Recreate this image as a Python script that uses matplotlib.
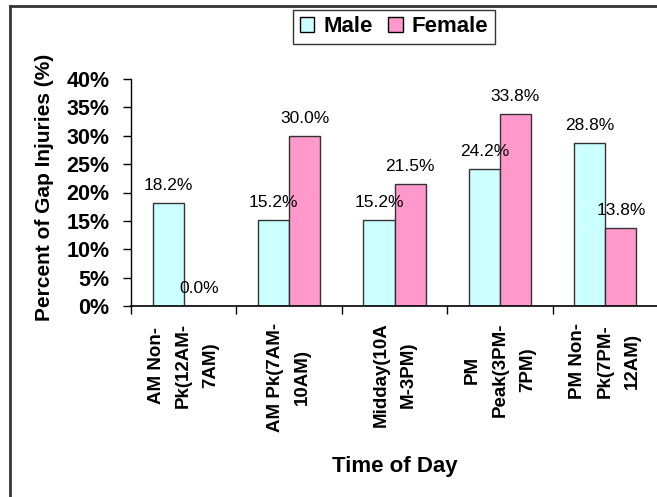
import numpy as np
import matplotlib
matplotlib.use("Agg")
import matplotlib.pyplot as plt
from matplotlib.patches import Patch
from matplotlib.lines import Line2D
from matplotlib.ticker import FuncFormatter

plt.rcParams['font.family'] = ['Liberation Sans', 'DejaVu Sans']

categories = ["AM Non-\nPk(12AM-\n7AM)", "AM Pk(7AM-\n10AM)", "Midday(10A\nM-3PM)",
              "PM\nPeak(3PM-\n7PM)", "PM Non-\nPk(7PM-\n12AM)"]
male = [18.2, 15.2, 15.2, 24.2, 28.8]
female = [0.0, 30.0, 21.5, 33.8, 13.8]

W, H = 657, 497
fig = plt.figure(figsize=(W/100, H/100), dpi=100)
ax = fig.add_axes([131/W, (H-306)/H, 527/W, 227/H])

x = np.arange(len(categories))
bw = 0.295
b1 = ax.bar(x - bw/2, male, bw, color='#CCFFFF', edgecolor='#333333', linewidth=1)
b2 = ax.bar(x + bw/2, female, bw, color='#FF99CC', edgecolor='#333333', linewidth=1)

ax.bar_label(b1, labels=["%.1f%%" % v for v in male], padding=7, fontsize=12.5)
ax.bar_label(b2, labels=["%.1f%%" % v for v in female], padding=7, fontsize=12.5)

ax.set_xlim(-0.5, 4.5)
ax.set_ylim(0, 40)
ax.set_yticks(np.arange(0, 41, 5))
ax.yaxis.set_major_formatter(FuncFormatter(lambda v, p: "%d%%" % v))
ax.tick_params(axis='y', labelsize=15.5, length=6, width=1, pad=9.5)
for t in ax.get_yticklabels():
    t.set_fontweight('bold')

# boundary ticks on major, category names on minor
ax.set_xticks(np.arange(-0.5, 5, 1))
ax.set_xticklabels([])
ax.set_xticks(x, minor=True)
ax.set_xticklabels(categories, minor=True, rotation=90, fontsize=13.5, fontweight='bold',
                   ha='center', va='top', multialignment='center', linespacing=1.8)
ax.tick_params(axis='x', which='major', length=6, width=1)
ax.tick_params(axis='x', which='minor', length=0, pad=12)

for s in ['top', 'right']:
    ax.spines[s].set_visible(False)
ax.spines['left'].set_linewidth(1)
ax.spines['bottom'].set_linewidth(1.2)

ax.set_ylabel("Percent of Gap Injuries (%)", fontsize=15, fontweight='bold', va='center')
ax.yaxis.set_label_coords(-0.165, 0.524)
ax.set_xlabel("Time of Day", fontsize=16, fontweight='bold', va='center')
ax.xaxis.set_label_coords(0.5, -0.705)

handles = [Patch(facecolor='#CCFFFF', edgecolor='black', label='Male'),
           Patch(facecolor='#FF99CC', edgecolor='black', label='Female')]
leg = fig.legend(handles=handles, loc='center', bbox_to_anchor=(394/W, (H-27)/H), ncol=2,
                 frameon=True, fancybox=False, edgecolor='black', prop={'weight': 'bold', 'size': 16},
                 handlelength=0.65, handleheight=0.65, handletextpad=0.4, columnspacing=0.7,
                 borderpad=0.3, borderaxespad=0)
leg.get_frame().set_linewidth(1)

# outer chart border (left and top sides visible)
fig.add_artist(Line2D([9.5/W, 9.5/W], [0, (H-6)/H], color='#333333', linewidth=2))
fig.add_artist(Line2D([9.5/W, 1], [(H-6)/H, (H-6)/H], color='#333333', linewidth=2))

fig.savefig("out.png", dpi=100)
